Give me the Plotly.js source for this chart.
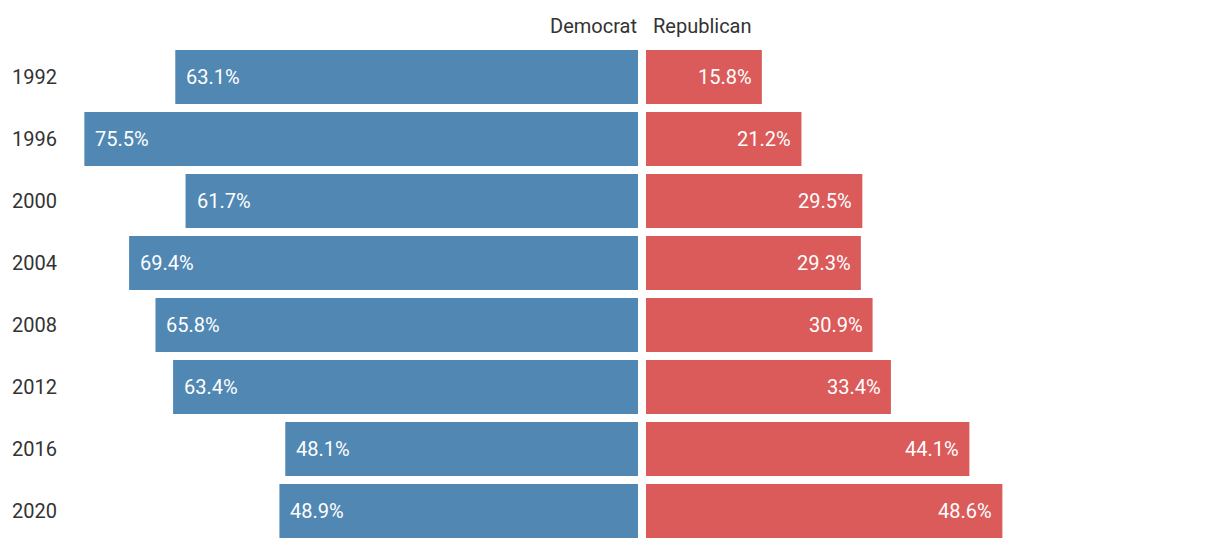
<!DOCTYPE html>
<html>
<head>
<meta charset="utf-8">
<script src="https://cdn.plot.ly/plotly-3.0.1.min.js"></script>
<style>html,body{margin:0;padding:0;background:#fff;}#chart{width:1220px;height:552px;}</style>
</head>
<body>
<div id="chart"></div>
<script>
const years = ['1992','1996','2000','2004','2008','2012','2016','2020'];
const democrat = [63.1, 75.5, 61.7, 69.4, 65.8, 63.4, 48.1, 48.9];
const republican = [15.8, 21.2, 29.5, 29.3, 30.9, 33.4, 44.1, 48.6];
const seriesNames = ['Democrat', 'Republican'];

const W = 1220, H = 552;
const pxPerPct = 7.333;
const leftEnd = 638, rightStart = 646;

const blue = '#5087b3';
const red = '#db5a5a';
const FONT = 'Roboto, "Noto Sans", sans-serif';

const traces = [
  {type:'bar', orientation:'h', y: years, x: democrat, xaxis:'x', yaxis:'y',
   marker:{color: blue}, hoverinfo:'none', name: seriesNames[0]},
  {type:'bar', orientation:'h', y: years, x: republican, xaxis:'x2', yaxis:'y',
   marker:{color: red}, hoverinfo:'none', name: seriesNames[1]}
];

const annotations = [];
years.forEach((yr, i) => {
  annotations.push({xref:'paper', yref:'y', x: 10/W, y: i, xanchor:'left', yanchor:'middle',
    text: yr, showarrow:false, font:{family:FONT, size:20, color:'#333'}});
  annotations.push({xref:'x', yref:'y', x: democrat[i], y: i, xanchor:'left', yanchor:'middle',
    xshift: 9, text: democrat[i].toFixed(1) + '%', showarrow:false, font:{family:FONT, size:20, color:'#fff'}});
  annotations.push({xref:'x2', yref:'y', x: republican[i], y: i, xanchor:'right', yanchor:'middle',
    xshift: -8, text: republican[i].toFixed(1) + '%', showarrow:false, font:{family:FONT, size:20, color:'#fff'}});
});
annotations.push({xref:'paper', yref:'paper', x: (leftEnd+1)/W, y: 1 + 20/496, xanchor:'right', yanchor:'middle',
  text: seriesNames[0], showarrow:false, font:{family:FONT, size:20, color:'#333'}});
annotations.push({xref:'paper', yref:'paper', x: (rightStart+5)/W, y: 1 + 20/496, xanchor:'left', yanchor:'middle',
  text: seriesNames[1], showarrow:false, font:{family:FONT, size:20, color:'#333'}});

const layout = {
  width: W, height: H,
  margin: {l:0, r:0, t:46, b:10, pad:0},
  paper_bgcolor:'#fff', plot_bgcolor:'#fff',
  showlegend:false,
  bargap: 8/62,
  font:{family:FONT, size:20, color:'#333'},
  xaxis: {domain:[0, leftEnd/W], range:[leftEnd/pxPerPct, 0], showgrid:false, zeroline:false,
          showticklabels:false, showline:false, ticks:'', fixedrange:true},
  xaxis2: {domain:[rightStart/W, 1], range:[0, (W-rightStart)/pxPerPct], anchor:'y', showgrid:false, zeroline:false,
          showticklabels:false, showline:false, ticks:'', fixedrange:true},
  yaxis: {type:'category', categoryorder:'array', categoryarray: years, range:[years.length-0.5, -0.5],
          showgrid:false, zeroline:false, showticklabels:false, showline:false, ticks:'', fixedrange:true},
  annotations: annotations
};

Plotly.newPlot('chart', traces, layout, {displayModeBar:false, staticPlot:true});
</script>
</body>
</html>
